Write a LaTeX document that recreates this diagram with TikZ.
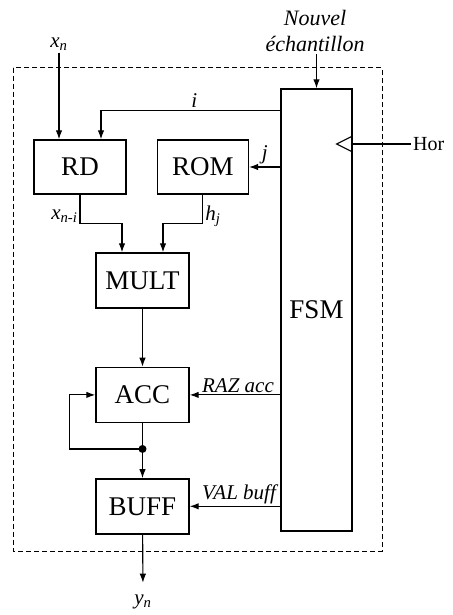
\documentclass[tikz,border=0pt]{standalone}
\usepackage{fontspec}
\setmainfont{Liberation Serif}
\usetikzlibrary{arrows.meta,positioning,calc}

\begin{document}
\begin{tikzpicture}[x=1pt, y=1pt, >={Latex[length=9pt,width=6.5pt]},
  blk/.style={draw, line width=1.4pt, minimum width=93pt, minimum height=55pt, inner sep=0pt, font=\fontsize{27}{30}\selectfont},
  lbl/.style={font=\fontsize{21}{26}\selectfont\itshape, inner sep=2pt},
  wire/.style={line width=1.1pt}]
\useasboundingbox (0,0) rectangle (452,-615);
% frame
\draw[line width=1pt, dash pattern=on 5pt off 3pt] (13,-68) rectangle (382,-551);
% blocks
\node[blk, minimum width=92pt, minimum height=54pt] (rd) at (80,-167) {RD};
\node[blk, minimum width=91pt, minimum height=54pt, right=30pt of rd] (rom) {ROM};
\node[blk] (mult) at (142.5,-280.5) {MULT};
\node[blk, below=58pt of mult] (acc) {ACC};
\node[blk, below=55pt of acc] (buff) {BUFF};
\node[blk, minimum width=71pt, minimum height=442pt] (fsm) at (316.5,-310) {FSM};
% inputs / outputs
\node[lbl] (xn) at (59,-44) {x\textsubscript{n}};
\node[lbl, align=center, font=\fontsize{22}{26}\selectfont\itshape] (nouv) at (315,-31) {Nouvel\\échantillon};
\node[anchor=west, inner sep=2pt, font=\fontsize{20}{24}\selectfont] (hor) at (411,-144) {Hor};
\node[lbl] (yn) at (143,-602) {y\textsubscript{n}};
\coordinate (clk) at (fsm.east |- 0,-144);
\coordinate (tap) at ($(acc.south)!0.47!(buff.north)$);
% connections
\draw[->, wire] (xn) -- (xn |- rd.north);
\draw[->, wire] (nouv.south -| fsm.north) -- (fsm.north);
\draw[->, wire] ([yshift=-22pt]fsm.north west) -| node[lbl, pos=0.24, above] {i} ([xshift=21pt]rd.north);
\draw[->, wire] (fsm.west |- rom.east) -- node[lbl, above] {j} (rom.east);
\draw[wire] ($(clk)+(0,8)$) -- ++(-16,-8) -- ++(16,-8);
\draw[wire] (clk) -- (hor.west);
\draw[->, wire] (rd.south) -- node[lbl, left, pos=0.75] {x\textsubscript{n-i}} ++(0,-29) -| ([xshift=-20.5pt]mult.north);
\draw[->, wire] (rom.south) -- node[lbl, right, pos=0.75] {h\textsubscript{j}} ++(0,-29) -| ([xshift=20.5pt]mult.north);
\draw[->, wire] (mult) -- (acc);
\draw[->, wire] (fsm.west |- acc.east) -- node[lbl, above, xshift=3pt] {RAZ acc} (acc.east);
\draw[wire] (acc) -- (tap);
\fill (tap) circle (4pt);
\draw[->, wire] (tap) -- (buff);
\draw[->, wire] (tap) -| ([xshift=-26pt]acc.west) -- (acc.west);
\draw[->, wire] (fsm.west |- buff.east) -- node[lbl, above, xshift=4pt] {VAL buff} (buff.east);
\draw[->, wire, shorten >=10pt] (buff) -- (yn);
\end{tikzpicture}
\end{document}
